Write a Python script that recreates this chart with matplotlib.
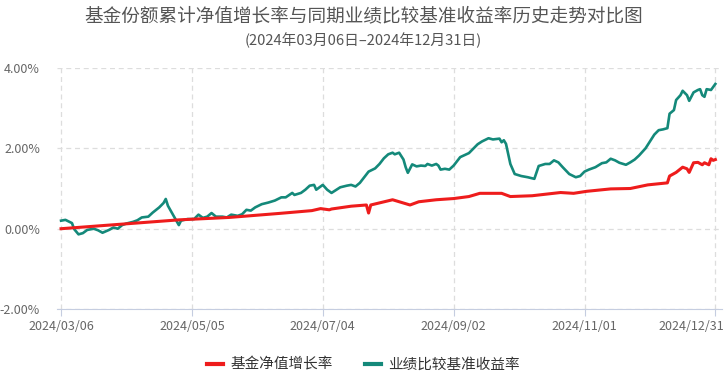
import datetime as dt
import matplotlib
matplotlib.use("Agg")
import matplotlib.pyplot as plt
import matplotlib.dates as mdates
import matplotlib.transforms as mtransforms
from matplotlib.ticker import FuncFormatter

plt.rcParams['font.family'] = ['Noto Sans CJK SC', 'DejaVu Sans']

start = dt.date(2024, 3, 6)

# benchmark return (teal): day offset from start, value in %
bench_days = [0, 2, 5, 6, 8, 10, 12, 15, 17, 19, 22, 24, 26, 28, 30, 33, 35, 37, 40, 42,
              45, 47, 48, 49, 52, 54, 55, 58, 61, 63, 65, 67, 69, 71, 74, 76, 78, 81, 83, 85,
              87, 89, 92, 95, 98, 101, 103, 106, 107, 110, 112, 114, 116, 117, 120, 122, 124,
              126, 128, 131, 133, 135, 137, 139, 141, 144, 146, 148, 150, 152, 153, 155, 157,
              158, 159, 161, 163, 165, 167, 168, 170, 172, 173, 174, 176, 178, 180, 183, 187,
              191, 193, 196, 198, 201, 202, 203, 204, 206, 208, 211, 214, 217, 219, 222, 224,
              226, 228, 230, 233, 236, 238, 240, 242, 245, 248, 250, 252, 254, 256, 259, 261,
              263, 265, 268, 270, 272, 274, 276, 278, 279, 281, 282, 284, 285, 287, 288, 290,
              292, 293, 294, 295, 296, 298, 300]
bench_vals = [0.20, 0.22, 0.14, -0.01, -0.14, -0.11, -0.03, 0.00, -0.04, -0.10, -0.03, 0.03,
              0.00, 0.09, 0.13, 0.17, 0.21, 0.28, 0.30, 0.40, 0.53, 0.64, 0.74, 0.57, 0.28,
              0.09, 0.20, 0.24, 0.24, 0.35, 0.27, 0.30, 0.39, 0.30, 0.30, 0.28, 0.35, 0.32,
              0.36, 0.47, 0.45, 0.53, 0.61, 0.65, 0.70, 0.78, 0.78, 0.89, 0.84, 0.89, 0.97,
              1.07, 1.09, 0.97, 1.09, 0.97, 0.89, 0.96, 1.03, 1.07, 1.09, 1.05, 1.14, 1.28,
              1.42, 1.50, 1.61, 1.75, 1.85, 1.89, 1.85, 1.89, 1.72, 1.53, 1.39, 1.60, 1.55,
              1.57, 1.56, 1.61, 1.57, 1.61, 1.57, 1.47, 1.49, 1.47, 1.57, 1.78, 1.88, 2.10,
              2.17, 2.25, 2.22, 2.24, 2.15, 2.20, 2.11, 1.61, 1.36, 1.31, 1.28, 1.24, 1.56,
              1.61, 1.61, 1.70, 1.65, 1.53, 1.36, 1.28, 1.31, 1.42, 1.47, 1.53, 1.63, 1.65,
              1.74, 1.70, 1.64, 1.59, 1.65, 1.72, 1.82, 2.00, 2.17, 2.34, 2.45, 2.47, 2.50,
              2.86, 2.95, 3.20, 3.32, 3.43, 3.32, 3.18, 3.39, 3.45, 3.47, 3.32, 3.28, 3.47,
              3.45, 3.60]

# fund NAV growth (red)
fund_days = [0, 27, 54, 77, 100, 115, 119, 123, 124, 133, 140, 141, 142, 152, 160, 164, 172,
             180, 187, 192, 202, 206, 216, 229, 235, 241, 252, 261, 269, 278, 279, 282, 285,
             287, 288, 290, 292, 294, 295, 297, 298, 299, 300]
fund_vals = [0.00, 0.11, 0.22, 0.28, 0.38, 0.45, 0.50, 0.47, 0.49, 0.56, 0.59, 0.39, 0.59,
             0.72, 0.59, 0.67, 0.72, 0.75, 0.80, 0.88, 0.88, 0.80, 0.82, 0.90, 0.88, 0.93,
             0.99, 1.00, 1.09, 1.14, 1.31, 1.40, 1.53, 1.49, 1.40, 1.64, 1.65, 1.59, 1.64,
             1.59, 1.74, 1.70, 1.72]

tick_dates = ["2024/03/06", "2024/05/05", "2024/07/04", "2024/09/02", "2024/11/01", "2024/12/31"]
yticks = [-2, 0, 2, 4]

bench_x = [start + dt.timedelta(days=d) for d in bench_days]
fund_x = [start + dt.timedelta(days=d) for d in fund_days]
xt = [dt.datetime.strptime(s, "%Y/%m/%d").date() for s in tick_dates]

fig = plt.figure(figsize=(7.27, 3.77), dpi=100)
ax = fig.add_axes([0.078, 0.180, 0.915, 0.640])

ax.plot(fund_x, fund_vals, color="#ee1c1c", lw=2.2, label="基金净值增长率", zorder=3)
ax.plot(bench_x, bench_vals, color="#14897a", lw=1.9, label="业绩比较基准收益率", zorder=2)

ax.set_xlim(start - dt.timedelta(days=2.8), start + dt.timedelta(days=303.2))
ax.set_ylim(-2, 4)
ax.set_yticks(yticks)
ax.yaxis.set_major_formatter(FuncFormatter(lambda v, p: f"{v:.2f}%"))
ax.set_xticks(xt)
ax.xaxis.set_major_formatter(mdates.DateFormatter("%Y/%m/%d"))

ax.grid(True, ls=(0, (4, 3)), color="#dddddd", lw=0.9)
for s in ["top", "right", "left"]:
    ax.spines[s].set_visible(False)
ax.spines["bottom"].set_color("#c5cde0")
ax.tick_params(axis="y", length=0, pad=12, labelsize=9, labelcolor="#666666")
ax.tick_params(axis="x", length=5, color="#c5cde0", pad=3, labelsize=9, labelcolor="#666666")

# last date label is pushed inside the figure, as in the original
last = ax.get_xticklabels()[-1]
last.set_horizontalalignment("right")
last.set_transform(last.get_transform() + mtransforms.ScaledTranslation(9 / 100, 0, fig.dpi_scale_trans))

fig.text(0.5, 0.957, "基金份额累计净值增长率与同期业绩比较基准收益率历史走势对比图",
         ha="center", va="center", fontsize=13.4, color="#555555")
fig.text(0.5, 0.894, "(2024年03月06日–2024年12月31日)",
         ha="center", va="center", fontsize=10.6, color="#555555")

fig.legend(loc="center", bbox_to_anchor=(0.5, 0.032), ncol=2, frameon=False,
           fontsize=10.5, handlelength=1.1, handletextpad=0.5, columnspacing=2.2,
           labelcolor="#333333")
for line in fig.legends[0].get_lines():
    line.set_linewidth(3)

fig.savefig("out.png", dpi=100)
